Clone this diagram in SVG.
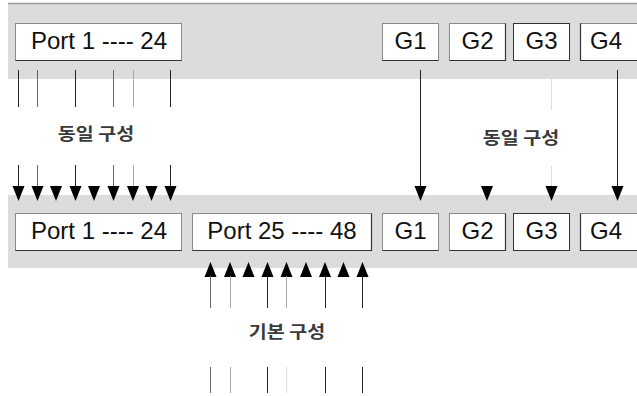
<svg xmlns="http://www.w3.org/2000/svg" xmlns:xlink="http://www.w3.org/1999/xlink" width="637" height="396" viewBox="0 0 637 396">
<style>
.panel{fill:#dcdcdc}
.box{fill:#fff;stroke:#8a8a8a;stroke-width:1}
.edge{stroke:#333;stroke-width:1.2;fill:none}
.lbl{font-family:"Liberation Sans",Arial,sans-serif;font-size:24px;fill:#111;text-anchor:middle}
.kr{font-family:"Noto Sans CJK KR","Noto Sans",sans-serif;font-size:17px;font-weight:bold;fill:#3a3a3a;text-anchor:middle}
.ln{stroke-width:1;fill:none}
.d{stroke:#222}
.m{stroke:#666}
.l{stroke:#aaa}
.f{stroke:#ddd}
.ah{fill:#000}
</style>
<defs>
<path id="down" class="ah" d="M-6,-15 L6,-15 L0,0 Z"/>
<path id="up" class="ah" d="M-6,15 L6,15 L0,0 Z"/>
</defs>
<rect width="637" height="396" fill="#fff"/>

<g id="top-panel">
<rect class="panel" x="8" y="3" width="629" height="76"/>
<line x1="8" y1="3.5" x2="637" y2="3.5" stroke="#9a9a9a" stroke-width="1.5"/>
</g>
<g id="bottom-panel">
<rect class="panel" x="8" y="195" width="629" height="73"/>
</g>

<g id="top-port1-24">
<rect class="box" x="15.5" y="23.5" width="166" height="37"/>
<path class="edge" d="M15.5,60.5 H181.5"/>
<text class="lbl" x="99" y="49">Port 1 ---- 24</text>
</g>
<g id="top-g1">
<rect class="box" x="382.5" y="23.5" width="56" height="37"/>
<path class="edge" d="M382.5,60.5 H438.5"/>
<text class="lbl" x="410.5" y="49">G1</text>
</g>
<g id="top-g2">
<rect class="box" x="449.5" y="23.5" width="56" height="37"/>
<path class="edge" d="M449.5,60.5 H505.5 V23.5"/>
<text class="lbl" x="477.5" y="49">G2</text>
</g>
<g id="top-g3">
<rect class="box" x="513.5" y="23.5" width="56" height="37" style="stroke:#333"/>
<text class="lbl" x="541.5" y="49">G3</text>
</g>
<g id="top-g4">
<rect class="box" x="580.5" y="23.5" width="60" height="37"/>
<path class="edge" d="M580.5,23.5 V60.5 H637"/>
<text class="lbl" x="606" y="49">G4</text>
</g>

<g id="bottom-port1-24">
<rect class="box" x="15.5" y="213.5" width="166" height="37"/>
<path class="edge" d="M15.5,250.5 H181.5"/>
<text class="lbl" x="99" y="239">Port 1 ---- 24</text>
</g>
<g id="bottom-port25-48">
<rect class="box" x="192.5" y="213.5" width="179" height="37"/>
<path class="edge" d="M192.5,250.5 H371.5 V213.5"/>
<text class="lbl" x="282" y="239">Port 25 ---- 48</text>
</g>
<g id="bottom-g1">
<rect class="box" x="382.5" y="213.5" width="56" height="37"/>
<path class="edge" d="M382.5,250.5 H438.5"/>
<text class="lbl" x="410.5" y="239">G1</text>
</g>
<g id="bottom-g2">
<rect class="box" x="449.5" y="213.5" width="56" height="37"/>
<path class="edge" d="M449.5,250.5 H505.5 V213.5"/>
<text class="lbl" x="477.5" y="239">G2</text>
</g>
<g id="bottom-g3">
<rect class="box" x="513.5" y="213.5" width="56" height="37" style="stroke:#333"/>
<text class="lbl" x="541.5" y="239">G3</text>
</g>
<g id="bottom-g4">
<rect class="box" x="580.5" y="213.5" width="60" height="37"/>
<path class="edge" d="M580.5,213.5 V250.5 H637"/>
<text class="lbl" x="606" y="239">G4</text>
</g>

<g id="label-left"><text class="kr" transform="translate(96,140) scale(1.15,1)">동일 구성</text></g>
<g id="label-right"><text class="kr" transform="translate(521,144) scale(1.15,1)">동일 구성</text></g>
<g id="label-bottom"><text class="kr" transform="translate(287,338) scale(1.15,1)">기본 구성</text></g>

<g id="connectors">
<line class="ln d" x1="18.5" y1="70" x2="18.5" y2="107"/>
<line class="ln m" x1="37.5" y1="70" x2="37.5" y2="107"/>
<line class="ln d" x1="75.5" y1="70" x2="75.5" y2="107"/>
<line class="ln m" x1="113.5" y1="70" x2="113.5" y2="107"/>
<line class="ln l" x1="133.5" y1="70" x2="133.5" y2="107"/>
<line class="ln d" x1="170.5" y1="70" x2="170.5" y2="107"/>
<line class="ln d" x1="18.5" y1="165" x2="18.5" y2="187"/>
<line class="ln m" x1="37.5" y1="165" x2="37.5" y2="187"/>
<line class="ln d" x1="75.5" y1="165" x2="75.5" y2="187"/>
<line class="ln m" x1="113.5" y1="165" x2="113.5" y2="187"/>
<line class="ln l" x1="133.5" y1="165" x2="133.5" y2="187"/>
<line class="ln d" x1="170.5" y1="165" x2="170.5" y2="187"/>
<use xlink:href="#down" x="18.5" y="201"/>
<use xlink:href="#down" x="37.5" y="201"/>
<use xlink:href="#down" x="56" y="201"/>
<use xlink:href="#down" x="75.5" y="201"/>
<use xlink:href="#down" x="94" y="201"/>
<use xlink:href="#down" x="113.5" y="201"/>
<use xlink:href="#down" x="133" y="201"/>
<use xlink:href="#down" x="151.5" y="201"/>
<use xlink:href="#down" x="170.5" y="201"/>
<line class="ln d" x1="420.5" y1="70" x2="420.5" y2="187"/>
<use xlink:href="#down" x="420.5" y="201"/>
<use xlink:href="#down" x="487" y="201"/>
<line class="ln f" x1="551.5" y1="70" x2="551.5" y2="110"/>
<line class="ln f" x1="551.5" y1="166" x2="551.5" y2="187"/>
<use xlink:href="#down" x="551.5" y="201"/>
<line class="ln d" x1="617.5" y1="70" x2="617.5" y2="187"/>
<use xlink:href="#down" x="617.5" y="201"/>
<use xlink:href="#up" x="210.5" y="262"/>
<use xlink:href="#up" x="230" y="262"/>
<use xlink:href="#up" x="248.5" y="262"/>
<use xlink:href="#up" x="267.5" y="262"/>
<use xlink:href="#up" x="286.5" y="262"/>
<use xlink:href="#up" x="306" y="262"/>
<use xlink:href="#up" x="325" y="262"/>
<use xlink:href="#up" x="343.5" y="262"/>
<use xlink:href="#up" x="362.5" y="262"/>
<line class="ln m" x1="210.5" y1="276" x2="210.5" y2="308"/>
<line class="ln l" x1="230.5" y1="276" x2="230.5" y2="308"/>
<line class="ln d" x1="267.5" y1="276" x2="267.5" y2="308"/>
<line class="ln l" x1="286.5" y1="276" x2="286.5" y2="308"/>
<line class="ln d" x1="325.5" y1="276" x2="325.5" y2="308"/>
<line class="ln d" x1="362.5" y1="276" x2="362.5" y2="308"/>
<line class="ln m" x1="210.5" y1="367" x2="210.5" y2="393"/>
<line class="ln l" x1="230.5" y1="367" x2="230.5" y2="393"/>
<line class="ln d" x1="267.5" y1="367" x2="267.5" y2="393"/>
<line class="ln f" x1="286.5" y1="367" x2="286.5" y2="393"/>
<line class="ln d" x1="325.5" y1="367" x2="325.5" y2="393"/>
<line class="ln d" x1="362.5" y1="367" x2="362.5" y2="393"/>
</g>
</svg>
